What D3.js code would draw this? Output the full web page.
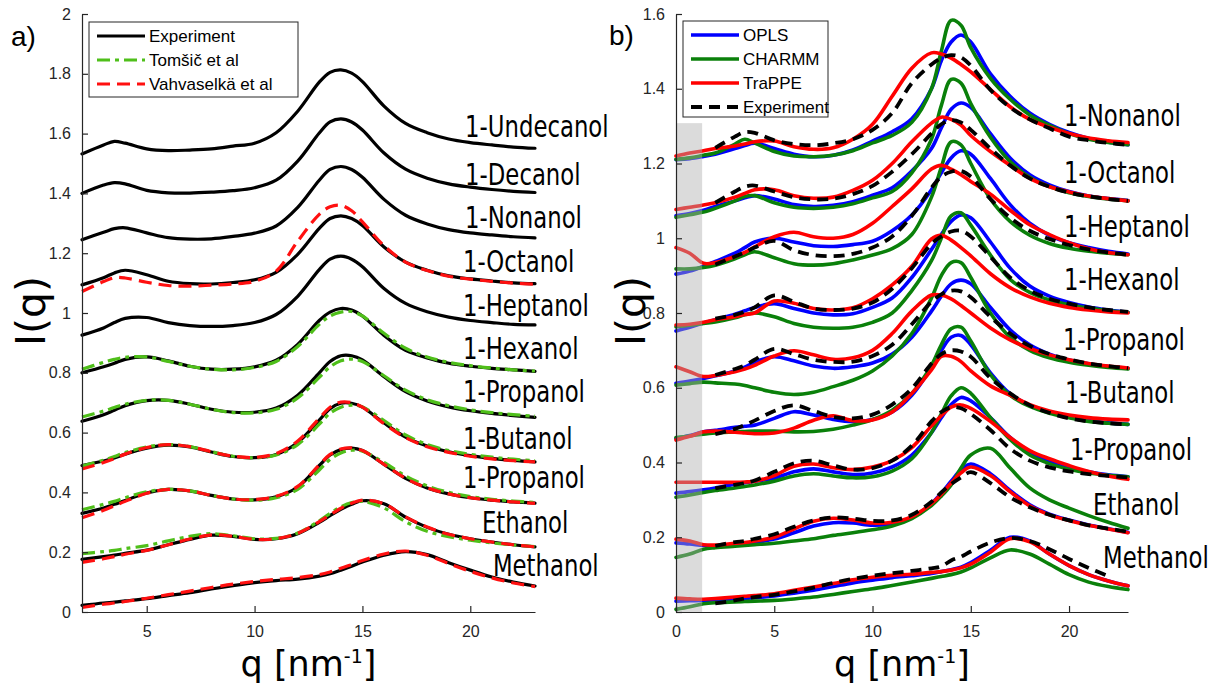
<!DOCTYPE html>
<html>
<head>
<meta charset="utf-8">
<script src="https://cdn.jsdelivr.net/npm/d3@7"></script>
<style>
  body { margin: 0; background: #fff; }
  .axis path, .axis line { stroke: #262626; stroke-width: 1.2; }
  .axis text { font-family: 'Liberation Sans', Arial, sans-serif; font-size: 16px; fill: #262626; }
  .curve-label { font-family: 'DejaVu Sans', sans-serif; font-size: 30px; fill: #000; }
  .legend text { font-family: 'Liberation Sans', Arial, sans-serif; font-size: 17px; fill: #000; }
  .title { font-family: 'DejaVu Sans', sans-serif; font-size: 35px; fill: #000; }
  .ylab { font-family: 'DejaVu Sans', sans-serif; font-size: 41px; fill: #000; }
  .panel-tag { font-family: 'Liberation Sans', Arial, sans-serif; font-size: 28px; fill: #000; }
</style>
</head>
<body>
<svg id="fig" width="1218" height="686"></svg>
<script>
// ---------- panel a) data ----------
const qA = [2, 3, 3.5, 4, 5, 6, 7, 8, 9, 10, 11, 12, 13, 13.5, 14, 14.5, 15, 16, 17, 18, 19, 20, 21, 22, 23];
const alcoholsA = ['1-Undecanol', '1-Decanol', '1-Nonanol', '1-Octanol', '1-Heptanol', '1-Hexanol',
  '1-Propanol', '1-Butanol', '1-Propanol', 'Ethanol', 'Methanol'];
const experimentA = [
  [1.532, 1.562, 1.574, 1.568, 1.549, 1.543, 1.545, 1.549, 1.558, 1.568, 1.603, 1.675, 1.772, 1.805, 1.813, 1.802, 1.774, 1.692, 1.634, 1.603, 1.582, 1.57, 1.562, 1.555, 1.551],
  [1.40, 1.428, 1.436, 1.432, 1.41, 1.402, 1.401, 1.404, 1.409, 1.419, 1.444, 1.508, 1.602, 1.639, 1.649, 1.639, 1.612, 1.535, 1.481, 1.451, 1.432, 1.421, 1.413, 1.407, 1.403],
  [1.245, 1.27, 1.282, 1.285, 1.268, 1.252, 1.247, 1.248, 1.256, 1.267, 1.291, 1.353, 1.444, 1.48, 1.49, 1.48, 1.454, 1.38, 1.327, 1.298, 1.279, 1.268, 1.261, 1.255, 1.251],
  [1.094, 1.118, 1.134, 1.143, 1.128, 1.106, 1.098, 1.097, 1.102, 1.111, 1.136, 1.196, 1.283, 1.316, 1.325, 1.316, 1.293, 1.221, 1.17, 1.143, 1.124, 1.114, 1.107, 1.101, 1.098],
  [0.926, 0.95, 0.968, 0.982, 0.985, 0.968, 0.958, 0.955, 0.958, 0.968, 0.995, 1.056, 1.145, 1.18, 1.19, 1.18, 1.155, 1.082, 1.032, 1.004, 0.986, 0.975, 0.968, 0.962, 0.96],
  [0.80, 0.82, 0.832, 0.845, 0.853, 0.84, 0.822, 0.812, 0.812, 0.82, 0.842, 0.895, 0.975, 1.003, 1.015, 1.01, 0.99, 0.925, 0.875, 0.85, 0.832, 0.822, 0.815, 0.81, 0.805],
  [0.638, 0.66, 0.675, 0.69, 0.707, 0.708, 0.695, 0.678, 0.668, 0.668, 0.682, 0.725, 0.8, 0.838, 0.857, 0.857, 0.843, 0.787, 0.737, 0.706, 0.686, 0.673, 0.664, 0.657, 0.651],
  [0.49, 0.505, 0.515, 0.528, 0.548, 0.558, 0.552, 0.535, 0.52, 0.516, 0.527, 0.567, 0.642, 0.68, 0.698, 0.698, 0.685, 0.632, 0.585, 0.555, 0.536, 0.523, 0.514, 0.507, 0.502],
  [0.33, 0.348, 0.36, 0.373, 0.398, 0.41, 0.405, 0.39, 0.378, 0.375, 0.385, 0.418, 0.49, 0.525, 0.543, 0.548, 0.54, 0.494, 0.447, 0.415, 0.395, 0.382, 0.374, 0.368, 0.364],
  [0.176, 0.185, 0.19, 0.196, 0.207, 0.225, 0.243, 0.257, 0.253, 0.243, 0.245, 0.262, 0.3, 0.322, 0.343, 0.36, 0.372, 0.362, 0.317, 0.283, 0.26, 0.245, 0.234, 0.225, 0.218],
  [0.022, 0.03, 0.033, 0.037, 0.045, 0.055, 0.065, 0.077, 0.088, 0.098, 0.105, 0.11, 0.12, 0.128, 0.14, 0.153, 0.167, 0.19, 0.202, 0.192, 0.165, 0.14, 0.117, 0.1, 0.087]
];
const tomsicA = [
  null, null, null, null, null,
  [0.812, 0.835, 0.845, 0.852, 0.853, 0.838, 0.822, 0.812, 0.81, 0.818, 0.838, 0.888, 0.962, 0.99, 1.003, 1.005, 0.99, 0.932, 0.882, 0.853, 0.835, 0.824, 0.816, 0.81, 0.806],
  [0.652, 0.672, 0.684, 0.695, 0.708, 0.708, 0.695, 0.678, 0.667, 0.666, 0.678, 0.716, 0.785, 0.82, 0.84, 0.846, 0.838, 0.79, 0.742, 0.71, 0.69, 0.676, 0.667, 0.66, 0.655],
  [0.488, 0.508, 0.52, 0.533, 0.552, 0.56, 0.553, 0.536, 0.521, 0.516, 0.525, 0.56, 0.628, 0.665, 0.685, 0.692, 0.686, 0.64, 0.592, 0.56, 0.54, 0.527, 0.518, 0.511, 0.506],
  [0.342, 0.36, 0.37, 0.382, 0.402, 0.41, 0.405, 0.39, 0.378, 0.374, 0.382, 0.41, 0.475, 0.51, 0.532, 0.541, 0.538, 0.5, 0.455, 0.422, 0.4, 0.386, 0.377, 0.371, 0.366],
  [0.195, 0.202, 0.206, 0.212, 0.222, 0.238, 0.253, 0.262, 0.255, 0.245, 0.246, 0.264, 0.305, 0.33, 0.352, 0.366, 0.37, 0.348, 0.302, 0.27, 0.252, 0.24, 0.231, 0.224, 0.219],
  null
];
const vahvaselkaA = [
  null, null, null,
  [1.072, 1.105, 1.118, 1.117, 1.103, 1.092, 1.09, 1.093, 1.097, 1.106, 1.14, 1.24, 1.33, 1.355, 1.36, 1.342, 1.305, 1.225, 1.17, 1.142, 1.123, 1.113, 1.106, 1.1, 1.096],
  null, null, null,
  [0.478, 0.5, 0.513, 0.528, 0.55, 0.56, 0.553, 0.536, 0.521, 0.517, 0.53, 0.572, 0.648, 0.685, 0.702, 0.7, 0.685, 0.63, 0.583, 0.553, 0.534, 0.521, 0.512, 0.506, 0.502],
  [0.315, 0.34, 0.355, 0.37, 0.397, 0.41, 0.405, 0.39, 0.378, 0.376, 0.387, 0.42, 0.492, 0.527, 0.545, 0.549, 0.54, 0.494, 0.447, 0.415, 0.395, 0.382, 0.374, 0.368, 0.363],
  [0.166, 0.178, 0.185, 0.193, 0.206, 0.225, 0.244, 0.258, 0.253, 0.243, 0.245, 0.263, 0.302, 0.325, 0.347, 0.364, 0.374, 0.362, 0.318, 0.284, 0.26, 0.245, 0.234, 0.225, 0.218],
  [0.015, 0.026, 0.03, 0.035, 0.046, 0.058, 0.07, 0.082, 0.093, 0.102, 0.109, 0.115, 0.125, 0.134, 0.146, 0.159, 0.172, 0.194, 0.204, 0.19, 0.162, 0.136, 0.114, 0.097, 0.085]
];
const xTicksA = [5, 10, 15, 20];
const yTicksA = [0, 0.2, 0.4, 0.6, 0.8, 1, 1.2, 1.4, 1.6, 1.8, 2];

// ---------- panel b) data ----------
const qB = [0, 0.7, 1.4, 2, 3, 3.5, 4, 5, 6, 7, 8, 9, 10, 11, 12, 13, 13.5, 14, 14.5, 15, 16, 17, 18, 19, 20, 21, 22, 23];
const alcoholsB = ['1-Nonanol', '1-Octanol', '1-Heptanol', '1-Hexanol', '1-Propanol', '1-Butanol',
  '1-Propanol', 'Ethanol', 'Methanol'];
const oplsB = [
  [1.21, 1.213, 1.219, 1.225, 1.24, 1.248, 1.254, 1.24, 1.225, 1.218, 1.222, 1.236, 1.26, 1.285, 1.32, 1.40, 1.475, 1.525, 1.544, 1.525, 1.44, 1.38, 1.335, 1.305, 1.283, 1.267, 1.257, 1.25],
  [1.06, 1.066, 1.075, 1.085, 1.1, 1.108, 1.114, 1.105, 1.09, 1.085, 1.088, 1.098, 1.115, 1.135, 1.18, 1.24, 1.295, 1.345, 1.362, 1.35, 1.28, 1.215, 1.17, 1.143, 1.125, 1.113, 1.106, 1.101],
  [0.904, 0.912, 0.925, 0.938, 0.96, 0.975, 0.99, 1.0, 0.99, 0.98, 0.978, 0.983, 0.992, 1.02, 1.062, 1.13, 1.175, 1.215, 1.234, 1.225, 1.16, 1.09, 1.04, 1.008, 0.988, 0.975, 0.965, 0.958],
  [0.752, 0.762, 0.773, 0.782, 0.797, 0.806, 0.815, 0.825, 0.812, 0.8, 0.795, 0.798, 0.815, 0.84, 0.895, 0.97, 1.01, 1.045, 1.062, 1.055, 0.99, 0.92, 0.872, 0.845, 0.828, 0.816, 0.808, 0.802],
  [0.612, 0.618, 0.625, 0.632, 0.645, 0.655, 0.668, 0.683, 0.672, 0.658, 0.652, 0.656, 0.666, 0.69, 0.735, 0.805, 0.845, 0.878, 0.888, 0.878, 0.815, 0.755, 0.715, 0.69, 0.674, 0.664, 0.657, 0.652],
  [0.464, 0.472, 0.482, 0.486, 0.494, 0.497, 0.5, 0.518, 0.536, 0.527, 0.515, 0.509, 0.515, 0.535, 0.58, 0.655, 0.7, 0.735, 0.74, 0.715, 0.64, 0.584, 0.553, 0.535, 0.522, 0.512, 0.506, 0.502],
  [0.318, 0.322, 0.327, 0.332, 0.342, 0.346, 0.35, 0.358, 0.375, 0.383, 0.375, 0.368, 0.372, 0.388, 0.42, 0.48, 0.52, 0.555, 0.574, 0.565, 0.52, 0.467, 0.428, 0.403, 0.386, 0.375, 0.367, 0.362],
  [0.185, 0.182, 0.178, 0.177, 0.18, 0.182, 0.186, 0.195, 0.212, 0.23, 0.239, 0.238, 0.232, 0.236, 0.252, 0.29, 0.318, 0.35, 0.38, 0.396, 0.37, 0.325, 0.287, 0.262, 0.246, 0.233, 0.223, 0.213],
  [0.029, 0.03, 0.031, 0.032, 0.034, 0.036, 0.038, 0.043, 0.05, 0.058, 0.068, 0.078, 0.085, 0.092, 0.097, 0.103, 0.108, 0.113, 0.12, 0.132, 0.165, 0.2, 0.19, 0.155, 0.124, 0.1, 0.083, 0.07]
];
const charmmB = [
  [1.211, 1.215, 1.222, 1.228, 1.252, 1.265, 1.255, 1.232, 1.22, 1.218, 1.222, 1.234, 1.255, 1.275, 1.31, 1.40, 1.50, 1.583, 1.57, 1.51, 1.428, 1.372, 1.33, 1.302, 1.28, 1.265, 1.256, 1.25],
  [1.056, 1.063, 1.07, 1.08, 1.1, 1.112, 1.114, 1.095, 1.083, 1.08, 1.083, 1.092, 1.108, 1.125, 1.175, 1.265, 1.355, 1.425, 1.415, 1.36, 1.27, 1.205, 1.163, 1.138, 1.122, 1.112, 1.105, 1.1],
  [0.918, 0.918, 0.922, 0.928, 0.945, 0.956, 0.964, 0.948, 0.932, 0.928, 0.932, 0.942, 0.955, 0.972, 1.01, 1.11, 1.19, 1.258, 1.25, 1.2, 1.105, 1.045, 1.008, 0.986, 0.973, 0.965, 0.96, 0.956],
  [0.763, 0.767, 0.772, 0.776, 0.787, 0.795, 0.8, 0.79, 0.772, 0.762, 0.759, 0.762, 0.775, 0.8, 0.86, 0.94, 1.0, 1.06, 1.068, 1.035, 0.955, 0.89, 0.855, 0.835, 0.822, 0.813, 0.806, 0.802],
  [0.607, 0.611, 0.615, 0.613, 0.61, 0.606, 0.6, 0.588, 0.582, 0.588, 0.603, 0.62, 0.645, 0.685, 0.745, 0.84, 0.9, 0.935, 0.935, 0.895, 0.8, 0.735, 0.7, 0.68, 0.668, 0.66, 0.654, 0.65],
  [0.467, 0.471, 0.476, 0.479, 0.482, 0.483, 0.484, 0.484, 0.482, 0.483, 0.489, 0.5, 0.515, 0.54, 0.585, 0.66, 0.715, 0.758, 0.762, 0.725, 0.635, 0.58, 0.55, 0.532, 0.52, 0.51, 0.505, 0.502],
  [0.307, 0.313, 0.32, 0.325, 0.332, 0.336, 0.34, 0.35, 0.364, 0.37, 0.364, 0.359, 0.362, 0.377, 0.41, 0.48, 0.53, 0.578, 0.6, 0.585, 0.52, 0.462, 0.42, 0.397, 0.382, 0.372, 0.366, 0.362],
  [0.146, 0.155, 0.168, 0.172, 0.176, 0.178, 0.18, 0.184, 0.19, 0.196, 0.205, 0.212, 0.22, 0.23, 0.25, 0.285, 0.31, 0.34, 0.385, 0.42, 0.438, 0.385, 0.332, 0.3, 0.278, 0.258, 0.24, 0.224],
  [0.007, 0.014, 0.022, 0.025, 0.027, 0.028, 0.029, 0.031, 0.035, 0.04, 0.047, 0.055, 0.062, 0.071, 0.08, 0.09, 0.095, 0.1, 0.107, 0.118, 0.145, 0.166, 0.155, 0.128, 0.1, 0.08, 0.068, 0.06]
];
const trappeB = [
  [1.22, 1.228, 1.234, 1.24, 1.247, 1.252, 1.258, 1.26, 1.245, 1.238, 1.242, 1.265, 1.305, 1.38, 1.455, 1.496, 1.493, 1.482, 1.465, 1.445, 1.398, 1.352, 1.318, 1.297, 1.28, 1.268, 1.261, 1.256],
  [1.077, 1.083, 1.089, 1.095, 1.11, 1.12, 1.13, 1.13, 1.114, 1.107, 1.11, 1.128, 1.155, 1.2, 1.258, 1.308, 1.324, 1.318, 1.303, 1.275, 1.232, 1.195, 1.16, 1.138, 1.124, 1.113, 1.106, 1.1],
  [0.975, 0.96, 0.933, 0.935, 0.951, 0.962, 0.977, 1.004, 1.016, 1.004, 1.0, 1.01, 1.04, 1.085, 1.132, 1.185, 1.195, 1.185, 1.17, 1.152, 1.118, 1.075, 1.036, 1.01, 0.988, 0.972, 0.962, 0.956],
  [0.768, 0.77, 0.775, 0.782, 0.79, 0.796, 0.8, 0.832, 0.826, 0.812, 0.808, 0.814, 0.838, 0.875, 0.925, 0.998, 1.008, 0.995, 0.975, 0.953, 0.905, 0.868, 0.843, 0.826, 0.815, 0.808, 0.803, 0.8],
  [0.656, 0.643, 0.63, 0.633, 0.643, 0.65, 0.66, 0.685, 0.699, 0.688, 0.676, 0.68, 0.7, 0.745, 0.805, 0.848, 0.848, 0.838, 0.82, 0.8, 0.76, 0.728, 0.705, 0.688, 0.675, 0.665, 0.658, 0.653],
  [0.46, 0.47, 0.482, 0.484, 0.481, 0.479, 0.477, 0.479, 0.492, 0.513, 0.525, 0.512, 0.514, 0.535, 0.585, 0.648, 0.684, 0.684, 0.67, 0.645, 0.605, 0.58, 0.555, 0.538, 0.527, 0.52, 0.516, 0.514],
  [0.347, 0.347, 0.347, 0.347, 0.347, 0.348, 0.35, 0.365, 0.39, 0.396, 0.386, 0.381, 0.388, 0.405, 0.44, 0.498, 0.525, 0.548, 0.554, 0.545, 0.51, 0.467, 0.432, 0.41, 0.392, 0.376, 0.364, 0.355],
  [0.195, 0.19, 0.18, 0.179, 0.184, 0.186, 0.19, 0.2, 0.222, 0.243, 0.251, 0.246, 0.238, 0.24, 0.255, 0.29, 0.315, 0.345, 0.372, 0.388, 0.365, 0.322, 0.284, 0.26, 0.245, 0.232, 0.222, 0.212],
  [0.037, 0.035, 0.034, 0.036, 0.04, 0.042, 0.044, 0.049, 0.058, 0.067, 0.076, 0.086, 0.093, 0.098, 0.101, 0.106, 0.108, 0.112, 0.118, 0.128, 0.16, 0.196, 0.188, 0.155, 0.124, 0.1, 0.083, 0.07]
];
const experimentB = [
  [null, null, null, 1.242, 1.272, 1.284, 1.282, 1.262, 1.252, 1.249, 1.254, 1.265, 1.29, 1.335, 1.415, 1.465, 1.482, 1.49, 1.484, 1.462, 1.397, 1.35, 1.318, 1.294, 1.272, 1.262, 1.255, 1.25],
  [null, null, null, 1.095, 1.125, 1.138, 1.141, 1.125, 1.11, 1.104, 1.106, 1.118, 1.14, 1.178, 1.225, 1.28, 1.305, 1.316, 1.31, 1.29, 1.24, 1.195, 1.16, 1.138, 1.122, 1.112, 1.105, 1.1],
  [null, null, null, 0.93, 0.951, 0.962, 0.975, 0.993, 0.968, 0.955, 0.952, 0.958, 0.975, 1.005, 1.06, 1.135, 1.165, 1.178, 1.18, 1.165, 1.105, 1.055, 1.02, 0.998, 0.982, 0.97, 0.962, 0.956],
  [null, null, null, 0.785, 0.795, 0.803, 0.815, 0.847, 0.83, 0.812, 0.808, 0.812, 0.828, 0.865, 0.92, 0.985, 1.005, 1.018, 1.02, 1.005, 0.95, 0.895, 0.86, 0.838, 0.825, 0.815, 0.808, 0.803],
  [null, null, null, 0.634, 0.65, 0.66, 0.675, 0.704, 0.69, 0.675, 0.669, 0.67, 0.685, 0.715, 0.77, 0.83, 0.85, 0.86, 0.858, 0.842, 0.79, 0.745, 0.712, 0.69, 0.676, 0.665, 0.658, 0.652],
  [null, null, null, 0.476, 0.49, 0.5, 0.512, 0.538, 0.553, 0.538, 0.522, 0.518, 0.528, 0.555, 0.598, 0.665, 0.69, 0.7, 0.697, 0.683, 0.626, 0.585, 0.553, 0.533, 0.518, 0.51, 0.505, 0.502],
  [null, null, null, 0.331, 0.34, 0.345, 0.352, 0.375, 0.398, 0.405, 0.392, 0.381, 0.385, 0.405, 0.445, 0.51, 0.535, 0.548, 0.545, 0.53, 0.487, 0.437, 0.405, 0.387, 0.376, 0.369, 0.364, 0.36],
  [null, null, null, 0.177, 0.187, 0.19, 0.196, 0.208, 0.228, 0.245, 0.253, 0.25, 0.244, 0.245, 0.26, 0.295, 0.32, 0.342, 0.36, 0.374, 0.345, 0.307, 0.28, 0.26, 0.245, 0.232, 0.223, 0.215],
  [null, null, null, 0.023, 0.031, 0.036, 0.04, 0.046, 0.055, 0.065, 0.078, 0.089, 0.097, 0.104, 0.11, 0.117, 0.122, 0.138, 0.148, 0.162, 0.186, 0.198, 0.19, 0.168, 0.142, 0.118, 0.096, null]
];
const xTicksB = [0, 5, 10, 15, 20];
const yTicksB = [0, 0.2, 0.4, 0.6, 0.8, 1, 1.2, 1.4, 1.6];
const shadedB = [0, 1.33, 1.308]; // q from, q to, I top

// ---------- layout ----------
// label anchors in data units (q, I) - placement only
const labelAtA = [[19.76, 1.589], [19.76, 1.428], [19.76, 1.284], [19.66, 1.137], [19.66, 0.99], [19.66, 0.846],
  [19.66, 0.702], [19.66, 0.545], [19.66, 0.415], [20.54, 0.264], [21.05, 0.12]];
const labelAtB = [[19.74, 1.30], [19.74, 1.148], [19.74, 1.003], [19.74, 0.862], [19.69, 0.701], [19.79, 0.559],
  [20.05, 0.407], [21.22, 0.26], [21.73, 0.118]];

const svg = d3.select('#fig');
const xA = d3.scaleLinear().domain([2, 23]).range([82, 535]);
const yA = d3.scaleLinear().domain([0, 2]).range([612, 14]);
const xB = d3.scaleLinear().domain([0, 23]).range([676, 1128]);
const yB = d3.scaleLinear().domain([0, 1.6]).range([612, 14]);

function lineFor(x, y) {
  return d3.line()
    .defined(d => d[1] != null)
    .x(d => x(d[0]))
    .y(d => y(d[1]))
    .curve(d3.curveCatmullRom.alpha(0.5));
}

function drawSeries(g, q, series, line, style) {
  series.forEach(vals => {
    if (!vals) return;
    g.append('path')
      .datum(d3.zip(q, vals))
      .attr('d', line)
      .attr('fill', 'none')
      .attr('stroke', style.color)
      .attr('stroke-width', style.width)
      .attr('stroke-dasharray', style.dash || null)
      .attr('stroke-linejoin', 'round')
      .attr('stroke-linecap', style.dash ? 'butt' : 'round');
  });
}

function drawAxes(x, y, xt, yt) {
  const fmt = d3.format('~g');
  svg.append('g').attr('class', 'axis')
    .attr('transform', `translate(0,${y.range()[0]})`)
    .call(d3.axisBottom(x).tickValues(xt).tickFormat(fmt).tickSizeInner(-6).tickSizeOuter(0).tickPadding(14));
  svg.append('g').attr('class', 'axis')
    .attr('transform', `translate(${x.range()[0]},0)`)
    .call(d3.axisLeft(y).tickValues(yt).tickFormat(fmt).tickSizeInner(-6).tickSizeOuter(0).tickPadding(11));
}

function drawLabels(names, anchors, x, y) {
  names.forEach((name, i) => {
    const [q, v] = anchors[i];
    svg.append('text')
      .attr('class', 'curve-label')
      .attr('transform', `translate(${x(q)},${y(v)}) scale(0.76,1)`)
      .text(name);
  });
}

function drawLegend(x0, y0, w, h, items) {
  const g = svg.append('g').attr('class', 'legend');
  g.append('rect').attr('x', x0).attr('y', y0).attr('width', w).attr('height', h)
    .attr('fill', '#fff').attr('stroke', '#262626').attr('stroke-width', 1);
  items.forEach((it, i) => {
    const yy = y0 + 14 + i * 24;
    g.append('line').attr('x1', x0 + 8).attr('x2', x0 + 56).attr('y1', yy).attr('y2', yy)
      .attr('stroke', it.color).attr('stroke-width', it.width)
      .attr('stroke-dasharray', it.dash || null);
    g.append('text').attr('x', x0 + 60).attr('y', yy).attr('dy', '0.35em').text(it.name);
  });
}

function drawTitles(x, cx) {
  const t = svg.append('text').attr('class', 'title')
    .attr('x', x(cx)).attr('y', 676).attr('text-anchor', 'middle');
  t.append('tspan').text('q [nm');
  t.append('tspan').attr('dy', -13).attr('font-size', '19px').text('-1');
  t.append('tspan').attr('dy', 13).text(']');
}

// ---------- panel a ----------
const lineA = lineFor(xA, yA);
const gA = svg.append('g');
const styleExpA = {color: '#000', width: 3.2};
const styleTomsic = {color: '#4fbf1a', width: 3.2, dash: '13,5,4,5'};
const styleVahva = {color: '#ff1010', width: 3.2, dash: '13,7'};
drawSeries(gA, qA, experimentA, lineA, styleExpA);
drawSeries(gA, qA, tomsicA, lineA, styleTomsic);
drawSeries(gA, qA, vahvaselkaA, lineA, styleVahva);
drawAxes(xA, yA, xTicksA, yTicksA);
drawLabels(alcoholsA, labelAtA, xA, yA);
drawLegend(89, 22, 209, 75, [
  {name: 'Experiment', ...styleExpA},
  {name: 'Tomšič et al', ...styleTomsic},
  {name: 'Vahvaselkä et al', ...styleVahva}
]);
drawTitles(xA, 12.5);
svg.append('text').attr('class', 'ylab').attr('transform', 'translate(31,311) rotate(-90)')
  .attr('text-anchor', 'middle').attr('dy', '0.35em').text('I(q)');
svg.append('text').attr('class', 'panel-tag').attr('x', 11).attr('y', 46).text('a)');

// ---------- panel b ----------
const lineB = lineFor(xB, yB);
const gB = svg.append('g');
const styleOpls = {color: '#0000ff', width: 3.6};
const styleCharmm = {color: '#0a800a', width: 3.6};
const styleTrappe = {color: '#ff0000', width: 3.6};
const styleExpB = {color: '#000', width: 3.8, dash: '11,7'};
drawSeries(gB, qB, oplsB, lineB, styleOpls);
drawSeries(gB, qB, charmmB, lineB, styleCharmm);
drawSeries(gB, qB, trappeB, lineB, styleTrappe);
drawSeries(gB, qB, experimentB, lineB, styleExpB);
gB.append('rect')
  .attr('x', xB(shadedB[0])).attr('width', xB(shadedB[1]) - xB(shadedB[0]))
  .attr('y', yB(shadedB[2])).attr('height', yB(0) - yB(shadedB[2]))
  .attr('fill', '#b0b0b0').attr('opacity', 0.45);
drawAxes(xB, yB, xTicksB, yTicksB);
drawLabels(alcoholsB, labelAtB, xB, yB);
drawLegend(683, 21, 145, 96, [
  {name: 'OPLS', ...styleOpls},
  {name: 'CHARMM', ...styleCharmm},
  {name: 'TraPPE', ...styleTrappe},
  {name: 'Experiment', ...styleExpB}
]);
drawTitles(xB, 11.5);
svg.append('text').attr('class', 'ylab').attr('transform', 'translate(631,311) rotate(-90)')
  .attr('text-anchor', 'middle').attr('dy', '0.35em').text('I(q)');
svg.append('text').attr('class', 'panel-tag').attr('x', 609).attr('y', 45).text('b)');
</script>
</body>
</html>
